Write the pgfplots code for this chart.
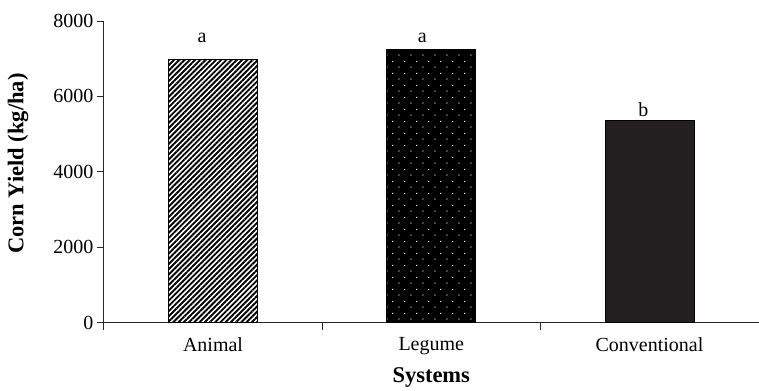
\documentclass[border=0pt]{standalone}
\usepackage{fontspec}
\setmainfont{Liberation Serif}
\usepackage{pgfplots}
\pgfplotsset{compat=1.18}
\usetikzlibrary{patterns,patterns.meta}

\pgfdeclarepatternformonly{stagdots}{\pgfpointorigin}{\pgfpoint{11.7pt}{11.6pt}}{\pgfpoint{11.7pt}{11.6pt}}{
  \pgfpathcircle{\pgfpoint{2pt}{2pt}}{0.7pt}
  \pgfpathcircle{\pgfpoint{7.85pt}{7.8pt}}{0.7pt}
  \pgfusepath{fill}
}
\definecolor{darkbar}{HTML}{231F20}

\begin{document}
\begin{tikzpicture}
\begin{axis}[
  name=ax,
  scale only axis,
  width=655pt, height=302pt,
  xmin=-0.5, xmax=2.5, ymin=0, ymax=8000,
  axis lines=left,
  axis line style={-, line width=0.9pt, color=black!85},
  tick style={line width=0.9pt, color=black!85},
  tick align=outside,
  major tick length=7pt,
  ytick={0,2000,4000,6000,8000},
  yticklabel style={/pgf/number format/assume math mode=true, font=\fontsize{20}{24}\selectfont, /pgf/number format/1000 sep={}},
  xtick={-0.5,0.5,1.5},
  xticklabels={},
  extra x ticks={0,1,2},
  extra x tick labels={Animal,Legume,Conventional},
  extra x tick style={major tick length=0pt, xticklabel style={font=\fontsize{20}{24}\selectfont, yshift=-11pt}},
  xlabel={\textbf{Systems}},
  xlabel style={font=\fontsize{22.5}{27}\selectfont, at={(axis description cs:0.5,-0.1987)}, anchor=base},
  ylabel={\textbf{Corn Yield (kg/ha)}},
  ylabel style={font=\fontsize{22.5}{27}\selectfont, at={(axis description cs:-0.1313,0.528)}, anchor=center},
  clip=false,
]
\addplot[ybar, bar shift=0pt, bar width=89pt, draw=black, line width=0.8pt, fill=white,
  postaction={pattern={Lines[angle=45,distance=3.7pt,line width=1.9pt]}, pattern color=black}]
  coordinates {(0,6970)};
\addplot[ybar, bar shift=0pt, bar width=89pt, draw=black, line width=0.8pt, fill=black,
  postaction={pattern=stagdots, pattern color=white}]
  coordinates {(1,7250)};
\addplot[ybar, bar shift=0pt, bar width=89pt, draw=black, line width=0.8pt, fill=darkbar]
  coordinates {(2,5360)};
\node[anchor=base, font=\fontsize{20}{24}\selectfont, xshift=-11pt] at (axis cs:0,7417) {a};
\node[anchor=base, font=\fontsize{20}{24}\selectfont, xshift=-9pt] at (axis cs:1,7417) {a};
\node[anchor=base, font=\fontsize{20}{24}\selectfont, xshift=-6pt] at (axis cs:2,5457) {b};
\end{axis}
\path ([xshift=-104pt,yshift=21pt]ax.north west) rectangle ([yshift=-65pt]ax.south east);
\end{tikzpicture}
\end{document}
